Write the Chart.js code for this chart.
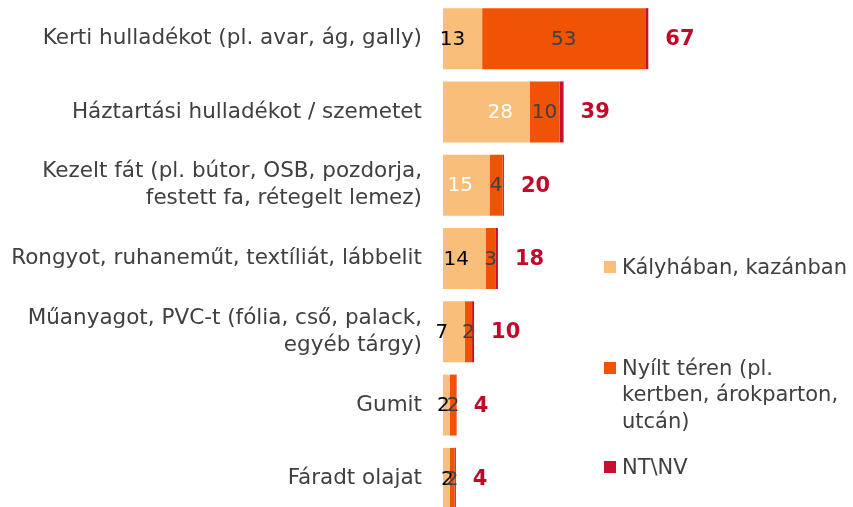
<!DOCTYPE html>
<html>
<head>
<meta charset="utf-8">
<script src="https://cdn.jsdelivr.net/npm/chart.js@4"></script>
<style>
  html, body { margin: 0; padding: 0; background: #fff; overflow: hidden; }
  #wrap { position: relative; width: 853px; height: 516px; }
  #legend { position: absolute; left: 0; top: 0; font-family: "DejaVu Sans", Verdana, sans-serif; font-size: 21px; color: #404040; }
  .item { position: absolute; left: 604px; line-height: 26.5px; white-space: nowrap; }
  .box { position: absolute; left: 0; width: 12px; height: 12px; top: 7px; }
  .txt { position: absolute; left: 18px; }
</style>
</head>
<body>
<div id="wrap">
  <canvas id="myChart"></canvas>
  <div id="legend"></div>
</div>
<script>
const lightColor = '#f8be7a';
const orangeColor = '#f05206';
const redColor = '#c8102e';
const totalColor = '#c00a2a';
const textColor = '#404040';

const categories = [
  'Kerti hulladékot (pl. avar, ág, gally)',
  'Háztartási hulladékot / szemetet',
  ['Kezelt fát (pl. bútor, OSB, pozdorja,', 'festett fa, rétegelt lemez)'],
  'Rongyot, ruhaneműt, textíliát, lábbelit',
  ['Műanyagot, PVC-t (fólia, cső, palack,', 'egyéb tárgy)'],
  'Gumit',
  'Fáradt olajat',
];
const seriesNames = ['Kályhában, kazánban', 'Nyílt téren (pl. kertben, árokparton, utcán)', 'NT\\NV'];
const legendLines = [['Kályhában, kazánban'], ['Nyílt téren (pl.', 'kertben, árokparton,', 'utcán)'], ['NT\\NV']];
const stove = [12.8, 28.3, 15.2, 13.9, 7.1, 2.2, 2.2];
const openAir = [53.3, 9.8, 4.3, 3.4, 2.4, 2.2, 1.6];
const noAnswer = [1.0, 1.3, 0.4, 0.65, 0.65, 0.1, 0.4];
const totals = [67, 39, 20, 18, 10, 4, 4];

// label styling for the first series (colour and small sideways nudge)
const stoveLabelColors = ['#000', '#fff', '#fff', '#000', '#000', '#000', '#000'];
const stoveLabelNudge = [-10, 14, -6, -8, -12, -3, 1];

const font = '"DejaVu Sans", Verdana, sans-serif';
Chart.defaults.font.family = font;

const segmentLabels = {
  id: 'segmentLabels',
  afterDatasetsDraw(chart) {
    const c = chart.ctx;
    c.save();
    c.textBaseline = 'middle';
    c.textAlign = 'center';
    c.font = '20px ' + font;
    chart.getDatasetMeta(0).data.forEach((bar, i) => {
      c.fillStyle = stoveLabelColors[i];
      c.fillText(Math.round(stove[i]), (bar.x + bar.base) / 2 + stoveLabelNudge[i], bar.y + 1);
    });
    chart.getDatasetMeta(1).data.forEach((bar, i) => {
      c.fillStyle = textColor;
      c.fillText(Math.round(openAir[i]), (bar.x + bar.base) / 2, bar.y + 1);
    });
    c.font = 'bold 21px ' + font;
    c.textAlign = 'left';
    c.fillStyle = totalColor;
    chart.getDatasetMeta(2).data.forEach((bar, i) => {
      c.fillText(totals[i], bar.x + 17, bar.y + 1);
    });
    c.restore();
  }
};

var ctx = document.getElementById('myChart');
var chart = new Chart(ctx, {
  type: 'bar',
  data: {
    labels: categories,
    datasets: [
      { label: seriesNames[0], data: stove, backgroundColor: lightColor },
      { label: seriesNames[1], data: openAir, backgroundColor: orangeColor },
      { label: seriesNames[2], data: noAnswer, backgroundColor: redColor },
    ],
  },
  options: {
    indexAxis: 'y',
    responsive: true,
    maintainAspectRatio: false,
    animation: false,
    layout: { padding: { top: 2, bottom: 1, left: 0, right: 104 } },
    datasets: { bar: { categoryPercentage: 1, barPercentage: 0.832, borderWidth: 0 } },
    scales: {
      x: { stacked: true, min: 0, max: 100, display: false },
      y: {
        stacked: true,
        grid: { display: false, drawTicks: false },
        border: { display: false },
        ticks: { color: textColor, padding: 21, font: { size: 21.5, lineHeight: 1.24 } },
        afterFit(scale) {
          scale.width = 443;
          scale.paddingTop = 0;
          scale.paddingBottom = 0;
        },
      },
    },
    plugins: { legend: { display: false }, tooltip: { enabled: false } },
  },
  plugins: [segmentLabels],
});

// legend on the right
const legendTops = [253.5, 354.75, 453.5];
const colors = [lightColor, orangeColor, redColor];
const legendEl = document.getElementById('legend');
legendLines.forEach((lines, i) => {
  const item = document.createElement('div');
  item.className = 'item';
  item.style.top = legendTops[i] + 'px';
  item.innerHTML = '<span class="box" style="background:' + colors[i] + '"></span><span class="txt">' + lines.join('<br>') + '</span>';
  legendEl.appendChild(item);
});
</script>
</body>
</html>
